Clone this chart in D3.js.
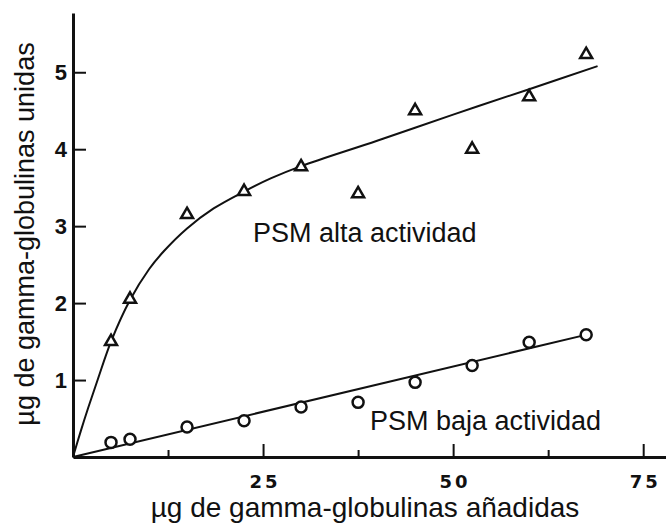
<!DOCTYPE html>
<html>
<head>
<meta charset="utf-8">
<script src="https://cdn.jsdelivr.net/npm/d3@7"></script>
<style>
  body { margin: 0; background: #fff; }
  svg text { font-family: "Liberation Sans", Arial, sans-serif; fill: #111; }
</style>
</head>
<body>
<div id="chart"></div>
<script>
// amounts added (µg)
const added = [5, 7.5, 15, 22.5, 30, 37.5, 45, 52.5, 60, 67.5];
// bound, high activity PSM (triangles)
const altaValues = [1.5, 2.05, 3.15, 3.45, 3.77, 3.42, 4.5, 4.0, 4.68, 5.23];
// bound, low activity PSM (circles)
const bajaValues = [0.19, 0.23, 0.39, 0.47, 0.65, 0.71, 0.97, 1.19, 1.49, 1.59];

// hand drawn fitted curves
const altaCurveX = [0, 1, 2, 3.3, 5, 7.5, 10, 12, 15, 18.5, 22.5, 26, 30, 40, 50, 60, 69];
const altaCurveY = [0, 0.33, 0.64, 1.02, 1.5, 2.04, 2.44, 2.68, 2.97, 3.23, 3.45, 3.62, 3.78, 4.11, 4.45, 4.78, 5.08];
const bajaCurveX = [0, 68];
const bajaCurveY = [0, 1.6];

const yTicks = [1, 2, 3, 4, 5];
const xTicks = [25, 50, 75];
const xMinorTicks = [12.5, 37.5, 62.5];

const width = 666, height = 525;

const svg = d3.select("#chart").append("svg")
    .attr("width", width)
    .attr("height", height);

const x = d3.scaleLinear().domain([0, 78]).range([73, 666]);
const y = d3.scaleLinear().domain([0, 5.77]).range([457, 13]);

// x axis, ticks pointing up into the plot
svg.append("g")
    .attr("class", "x-axis")
    .attr("transform", `translate(0, ${y(0)})`)
    .call(d3.axisBottom(x).tickValues(xTicks).tickSize(-13).tickSizeOuter(0).tickPadding(18));
svg.append("g")
    .attr("transform", `translate(0, ${y(0)})`)
    .call(d3.axisBottom(x).tickValues(xMinorTicks).tickSize(-7).tickSizeOuter(0).tickFormat(""))
    .call(g => g.select(".domain").remove());

// y axis, ticks pointing right
svg.append("g")
    .attr("class", "y-axis")
    .attr("transform", `translate(${x(0)}, 0)`)
    .call(d3.axisLeft(y).tickValues(yTicks).tickFormat(d3.format("d"))
        .tickSize(-13).tickSizeOuter(0).tickPadding(6));

svg.selectAll(".domain").attr("stroke", "#111").attr("stroke-width", 3);
svg.selectAll(".tick line").attr("stroke", "#111").attr("stroke-width", 2);

svg.selectAll(".x-axis .tick text")
    .style("font-family", "'DejaVu Sans', sans-serif")
    .style("font-size", "18px")
    .style("font-weight", "bold")
    .style("letter-spacing", "3px")
    .attr("dx", 1.5)
    .attr("fill", "#111");

svg.selectAll(".y-axis .tick text")
    .style("font-family", "'Liberation Sans', Arial, sans-serif")
    .style("font-size", "22px")
    .style("font-weight", "bold")
    .attr("fill", "#111");

// curves
const line = d3.line()
    .x(d => x(d[0]))
    .y(d => y(d[1]))
    .curve(d3.curveCatmullRom.alpha(0.5));

svg.append("path")
    .datum(d3.zip(altaCurveX, altaCurveY))
    .attr("fill", "none")
    .attr("stroke", "#111")
    .attr("stroke-width", 2)
    .attr("d", line);

svg.append("path")
    .datum(d3.zip(bajaCurveX, bajaCurveY))
    .attr("fill", "none")
    .attr("stroke", "#111")
    .attr("stroke-width", 2)
    .attr("d", line);

// markers
const tri = d3.symbol().type(d3.symbolTriangle).size(62);
svg.append("g")
    .selectAll("path")
    .data(d3.zip(added, altaValues)).enter()
    .append("path")
    .attr("transform", d => `translate(${x(d[0])}, ${y(d[1])})`)
    .attr("d", tri)
    .attr("fill", "#fff")
    .attr("stroke", "#111")
    .attr("stroke-width", 2.5);

svg.append("g")
    .selectAll("circle")
    .data(d3.zip(added, bajaValues)).enter()
    .append("circle")
    .attr("cx", d => x(d[0]))
    .attr("cy", d => y(d[1]))
    .attr("r", 5.5)
    .attr("fill", "#fff")
    .attr("stroke", "#111")
    .attr("stroke-width", 2.5);

// series labels
svg.append("text")
    .attr("x", 253).attr("y", 242)
    .style("font-size", "27px")
    .text("PSM alta actividad");
svg.append("text")
    .attr("x", 370).attr("y", 430)
    .style("font-size", "27px")
    .text("PSM baja actividad");

// axis titles
svg.append("text")
    .attr("x", 365).attr("y", 517)
    .attr("text-anchor", "middle")
    .style("font-size", "28px")
    .text("µg de gamma-globulinas añadidas");
svg.append("text")
    .attr("transform", "translate(34, 234) rotate(-90)")
    .attr("text-anchor", "middle")
    .style("font-size", "27px")
    .text("µg de gamma-globulinas unidas");
</script>
</body>
</html>
